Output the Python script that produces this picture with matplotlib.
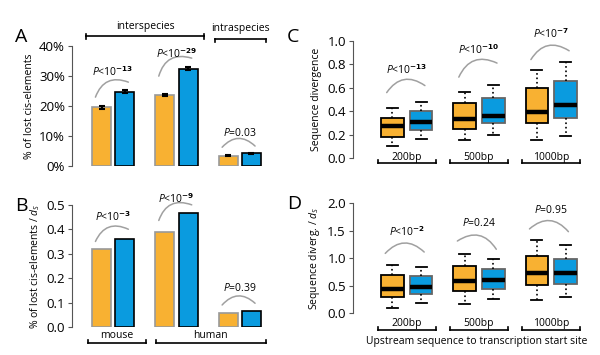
import numpy as np
import matplotlib
matplotlib.use("Agg")
import matplotlib.pyplot as plt

plt.rcParams['font.family'] = ['Open Sans', 'DejaVu Sans']
plt.rcParams['mathtext.fontset'] = 'custom'
plt.rcParams['mathtext.it'] = 'Open Sans:italic'
plt.rcParams['mathtext.rm'] = 'Open Sans'

ORANGE = '#F8B132'
BLUE = '#0A9BDF'

# --- data -------------------------------------------------------------
# panel A: % of lost cis-elements (orange, blue) per group
a_orange = [19.6, 23.8, 3.5]
a_blue = [24.8, 32.4, 4.3]
a_orange_err = [0.4, 0.4, 0.2]
a_blue_err = [0.5, 0.5, 0.2]
a_pvals = [r'$P$<10$^{\mathbf{-13}}$', r'$P$<10$^{\mathbf{-29}}$', r'$P$=0.03']

# panel B: normalised by dS
b_orange = [0.318, 0.390, 0.058]
b_blue = [0.359, 0.468, 0.066]
b_pvals = [r'$P$<10$^{\mathbf{-3}}$', r'$P$<10$^{\mathbf{-9}}$', r'$P$=0.39']

# panel C / D boxplot stats: (whislo, q1, med, q3, whishi)
regions = ['200bp', '500bp', '1000bp']
c_orange = [(0.10, 0.18, 0.27, 0.343, 0.423),
            (0.15, 0.249, 0.33, 0.466, 0.566),
            (0.15, 0.30, 0.394, 0.60, 0.75)]
c_blue = [(0.166, 0.237, 0.31, 0.40, 0.48),
          (0.194, 0.30, 0.36, 0.514, 0.62),
          (0.186, 0.343, 0.45, 0.66, 0.815)]
c_pvals = [r'$P$<10$^{\mathbf{-13}}$', r'$P$<10$^{\mathbf{-10}}$', r'$P$<10$^{\mathbf{-7}}$']

d_orange = [(0.10, 0.29, 0.445, 0.69, 0.87),
            (0.17, 0.40, 0.58, 0.86, 1.08),
            (0.23, 0.51, 0.73, 1.04, 1.32)]
d_blue = [(0.18, 0.354, 0.466, 0.68, 0.83),
          (0.26, 0.44, 0.60, 0.81, 0.98),
          (0.30, 0.52, 0.72, 0.98, 1.23)]
d_pvals = [r'$P$<10$^{\mathbf{-2}}$', r'$P$=0.24', r'$P$=0.95']

# arc annotation anchors (y start, y end, y text) per group
a_arcs = [(23, 28, 31.5), (30, 36, 37.5), (6.3, 6.7, 11)]
b_arcs = [(0.35, 0.40, 0.45), (0.436, 0.50, 0.525), (0.09, 0.097, 0.16)]
c_arcs = [(0.558, 0.618, 0.75), (0.69, 0.81, 0.92), (0.84, 0.915, 1.06)]
d_arcs = [(1.085, 1.11, 1.48), (1.31, 1.16, 1.63), (1.53, 1.48, 1.87)]

fig = plt.figure(figsize=(6, 3.55), dpi=100)


def style_axis(ax):
    for s in ['top', 'right', 'bottom']:
        ax.spines[s].set_visible(False)
    ax.spines['left'].set_color('#555555')
    ax.tick_params(axis='y', labelsize=9.5, length=3, color='#555555', pad=2)
    ax.set_xticks([])


def add_arcs(ax, arcs, labels, dx0=-0.28, dx1=0.24, rad=-0.5):
    for i, ((y0, y1, yt), lab) in enumerate(zip(arcs, labels)):
        ax.annotate('', xy=(i + dx1, y1), xytext=(i + dx0, y0),
                    arrowprops=dict(arrowstyle='-', color='#a0a0a0', lw=1.1,
                                    connectionstyle=f'arc3,rad={rad}',
                                    shrinkA=0, shrinkB=0),
                    annotation_clip=False)
        ax.text(i, yt, lab, ha='center', va='center', fontsize=7.5,
                clip_on=False)


def bracket(ax, x0, x1, y, tick, label=None, ty=None, fs=7.5):
    ax.plot([x0, x1], [y, y], color='black', lw=1.2, clip_on=False)
    ax.plot([x0, x0], [y, y + tick], color='black', lw=1.2, clip_on=False)
    ax.plot([x1, x1], [y, y + tick], color='black', lw=1.2, clip_on=False)
    if label:
        ax.text((x0 + x1) / 2, ty, label, ha='center', va='center',
                fontsize=fs, clip_on=False)


def bars(ax, orange, blue, oerr=None, berr=None):
    x = np.arange(len(orange))
    ax.bar(x - 0.183, orange, width=0.3, color=ORANGE, edgecolor='#999999',
           linewidth=1.2, yerr=oerr, capsize=2,
           error_kw=dict(ecolor='black', elinewidth=1.5, capthick=1.5))
    ax.bar(x + 0.183, blue, width=0.3, color=BLUE, edgecolor='black',
           linewidth=1.2, yerr=berr, capsize=2,
           error_kw=dict(ecolor='black', elinewidth=1.5, capthick=1.5))
    ax.set_xlim(-0.65, 2.4)


def boxes(ax, orange, blue):
    def mk(stats, lab):
        return [dict(whislo=s[0], q1=s[1], med=s[2], q3=s[3], whishi=s[4],
                     label=lab) for s in stats]
    x = np.arange(len(orange))
    common = dict(widths=0.31, patch_artist=True, showfliers=False,
                  medianprops=dict(color='black', lw=3.2),
                  whiskerprops=dict(color='black', lw=1.2, linestyle=':'),
                  capprops=dict(color='black', lw=1.3))
    bo = ax.bxp(mk(orange, 'o'), positions=x - 0.2,
                boxprops=dict(facecolor=ORANGE, edgecolor='black', lw=1.3),
                **common)
    bb = ax.bxp(mk(blue, 'b'), positions=x + 0.2,
                boxprops=dict(facecolor=BLUE, edgecolor='#666666', lw=1.3),
                **common)
    for cap in bo['caps'] + bb['caps']:
        xs = cap.get_xdata()
        c = np.mean(xs)
        cap.set_xdata([c - 0.08, c + 0.08])
    ax.set_xlim(-0.75, 2.47)
    ax.set_xticks([])


# --- panel A ----------------------------------------------------------
axA = fig.add_axes([0.12, 0.532, 0.322, 0.338])
bars(axA, a_orange, a_blue, a_orange_err, a_blue_err)
axA.set_ylim(0, 40)
axA.set_yticks([0, 10, 20, 30, 40])
axA.set_yticklabels(['0%', '10%', '20%', '30%', '40%'])
style_axis(axA)
axA.set_ylabel('% of lost cis-elements', fontsize=7.5, labelpad=3)
add_arcs(axA, a_arcs, a_pvals)
bracket(axA, -0.43, 1.44, 43.3, 0.8, 'interspecies', 46.5)
axA.plot([-0.43, -0.43], [43.3, 42.5], color='black', lw=1.2, clip_on=False)
axA.plot([1.44, 1.44], [43.3, 42.5], color='black', lw=1.2, clip_on=False)
bracket(axA, 1.6, 2.41, 42.3, -1.0, 'intraspecies', 45.8)

# --- panel B ----------------------------------------------------------
axB = fig.add_axes([0.12, 0.079, 0.322, 0.344])
bars(axB, b_orange, b_blue)
axB.set_ylim(0, 0.5)
axB.set_yticks([0, 0.1, 0.2, 0.3, 0.4, 0.5])
axB.set_yticklabels(['0.0', '0.1', '0.2', '0.3', '0.4', '0.5'])
style_axis(axB)
axB.set_ylabel(r'% of lost cis-elements / $d_S$', fontsize=7.5, labelpad=3)
add_arcs(axB, b_arcs, b_pvals)
bracket(axB, -0.4, 0.52, -0.066, 0.012, 'mouse', -0.037)
bracket(axB, 0.67, 2.41, -0.066, 0.012, 'human', -0.037)

# --- panel C ----------------------------------------------------------
axC = fig.add_axes([0.588, 0.555, 0.387, 0.33])
boxes(axC, c_orange, c_blue)
axC.set_ylim(0, 1.0)
axC.set_yticks(np.arange(0, 1.01, 0.2))
axC.set_yticklabels(['0.0', '0.2', '0.4', '0.6', '0.8', '1.0'])
style_axis(axC)
axC.set_ylabel('Sequence divergence', fontsize=7.5, labelpad=4)
add_arcs(axC, c_arcs, c_pvals, dx0=-0.28, dx1=0.25)
for i, r in enumerate(regions):
    bracket(axC, i - 0.4, i + 0.4, -0.046, 0.025, r, 0.0)

# --- panel D ----------------------------------------------------------
axD = fig.add_axes([0.588, 0.118, 0.387, 0.31])
boxes(axD, d_orange, d_blue)
axD.set_ylim(0, 2.0)
axD.set_yticks(np.arange(0, 2.01, 0.5))
axD.set_yticklabels(['0.0', '0.5', '1.0', '1.5', '2.0'])
style_axis(axD)
axD.set_ylabel(r'Sequence diverg. / $d_S$', fontsize=7.5, labelpad=4)
add_arcs(axD, d_arcs, d_pvals, dx0=-0.3, dx1=0.24)
for i, r in enumerate(regions):
    bracket(axD, i - 0.4, i + 0.4, -0.30, 0.05, r, -0.19)
axD.text(0.97, -0.52, 'Upstream sequence to transcription start site',
         ha='center', va='center', fontsize=7.5, clip_on=False)

# panel letters
for lab, x, y in [('A', 0.025, 0.895), ('B', 0.025, 0.42),
                  ('C', 0.478, 0.895), ('D', 0.478, 0.425)]:
    fig.text(x, y, lab, fontsize=14, ha='left', va='center')

fig.savefig('out.png', dpi=100)
